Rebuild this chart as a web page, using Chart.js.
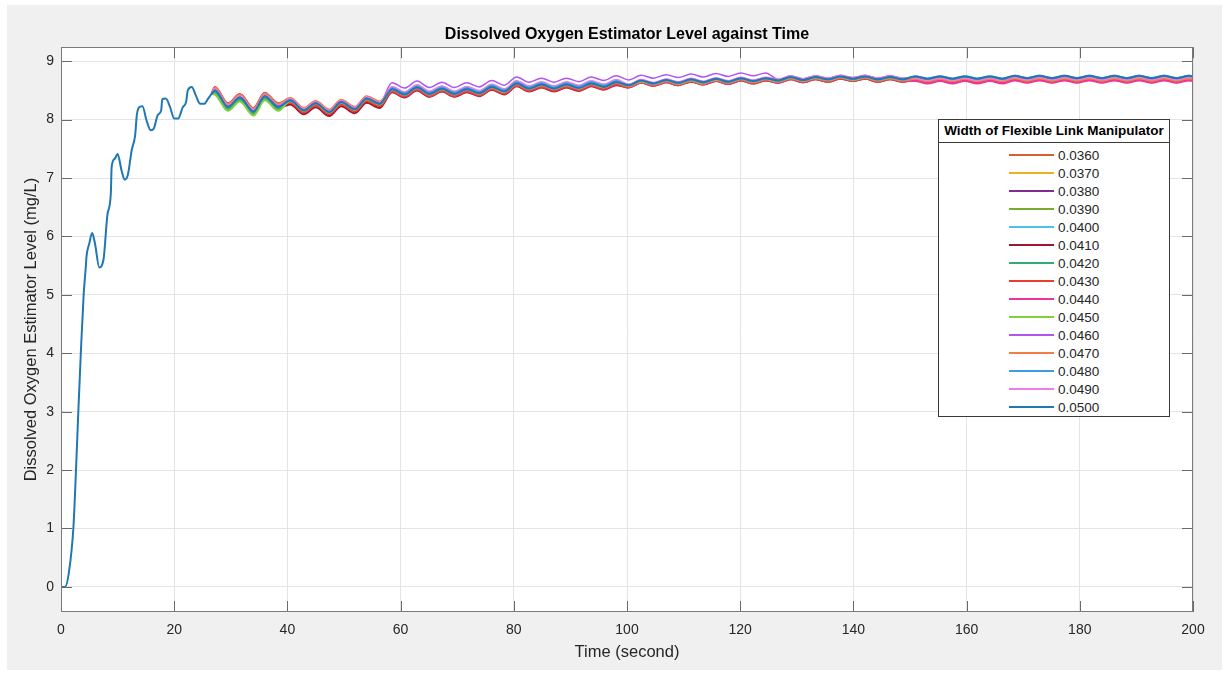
<!DOCTYPE html>
<html>
<head>
<meta charset="utf-8">
<script src="https://cdn.jsdelivr.net/npm/chart.js@4"></script>
<style>
  html, body { margin: 0; padding: 0; background: #fff; }
  #frame { position: absolute; left: 7px; top: 5px; width: 1215px; height: 665px; background: #f0f0f0; }
  #plot { position: absolute; left: 0; top: 0; }
  #legend { position: absolute; left: 938px; top: 119px; width: 230px; height: 296px; border: 1px solid #3a3a3a;
            background: #fff; font-family: "Liberation Sans", Arial, sans-serif; color: #262626; }
  #legend .head { height: 22px; line-height: 22px; border-bottom: 1px solid #3a3a3a; text-align: center;
                  font-weight: bold; font-size: 13.5px; color: #000; }
  #legend .rows { padding-top: 3px; }
  #legend .row { height: 18px; display: flex; align-items: center; }
  #legend .swatch { margin-left: 70px; width: 45px; }
  #legend .lab { margin-left: 4px; font-size: 13.5px; }
</style>
</head>
<body>
<div id="frame"></div>
<canvas id="plot" width="1229" height="673"></canvas>
<div id="legend"><div class="head">Width of Flexible Link Manipulator</div><div class="rows" id="rows"></div></div>
<script>
// tick labels
const xTicks = [0, 20, 40, 60, 80, 100, 120, 140, 160, 180, 200];
const yTicks = [0, 1, 2, 3, 4, 5, 6, 7, 8, 9];

// start-up part (all widths overlap, drawn with the 0.0500 line)
const earlyTime = [0, 0.7, 1.4, 2.2, 2.65, 3.06, 3.5, 4.0, 4.4, 4.5, 5.0, 5.5, 6.0, 6.77, 7.5, 8.2, 8.8, 8.95, 9.5, 10.0,
  10.7, 11.25, 11.8, 12.5, 13.1, 13.4, 13.95, 14.4, 15.1, 15.85, 16.4, 17.1, 17.7, 17.9, 18.5, 19.26, 20.0, 20.7, 21.5, 22.1,
  22.4, 23.1, 23.8, 24.6, 25.3, 26.0];
const earlyLevel = [0, 0, 0.25, 1.03, 2.0, 3.0, 4.0, 5.0, 5.5, 5.65, 5.88, 6.06, 5.88, 5.47, 5.6, 6.37, 6.73, 7.19, 7.33, 7.41,
  7.13, 6.97, 7.05, 7.48, 7.73, 8.08, 8.22, 8.23, 7.99, 7.82, 7.85, 8.08, 8.16, 8.35, 8.36, 8.22, 8.02, 8.02, 8.21, 8.30,
  8.50, 8.56, 8.42, 8.27, 8.27, 8.36];

// time points after the lines split (peaks and troughs)
const lateTime = [26.6, 27.2, 29.5, 31.6, 34.0, 36.0, 38.4, 40.5, 42.9, 45.0, 47.4, 49.5, 51.9, 54.0, 56.3,
  58.5, 60.7, 62.9, 65.1, 67.3, 69.5, 71.7, 73.9, 76.1, 78.3, 80.5, 82.7, 84.9, 87.1, 89.3, 91.5, 93.7, 95.9, 98.1,
  100.3, 102.5, 104.7, 106.9, 109.1, 111.3, 113.5, 115.7, 117.9, 120.1, 122.3, 124.5, 126.7, 128.9, 131.1, 133.3, 135.5, 137.7, 139.9, 142.1, 144.3, 146.5, 148.7,
  150.9, 153.1, 155.3, 157.5, 159.7, 161.9, 164.1, 166.3, 168.5, 170.7, 172.9, 175.1, 177.3, 179.5, 181.7, 183.9, 186.1, 188.3, 190.5, 192.7, 194.9, 197.1, 199.3, 200];

const w0360 = [8.44, 8.56, 8.28, 8.44, 8.20, 8.46, 8.28,
  8.36, 8.19, 8.31, 8.16, 8.33, 8.21, 8.39, 8.30,
  8.52, 8.43, 8.55, 8.44, 8.53, 8.44, 8.52, 8.45, 8.56, 8.48, 8.62, 8.53, 8.60, 8.53, 8.60, 8.54, 8.62, 8.56, 8.64,
  8.58, 8.66, 8.61, 8.67, 8.62, 8.68, 8.63, 8.69, 8.64, 8.70, 8.65, 8.70, 8.66, 8.72, 8.67, 8.72, 8.68, 8.73, 8.69, 8.73, 8.68, 8.72, 8.68,
  8.70, 8.66, 8.70, 8.66, 8.70, 8.66, 8.70, 8.66, 8.71, 8.67, 8.71, 8.67, 8.71, 8.67, 8.71, 8.67, 8.71, 8.67, 8.71, 8.67, 8.71, 8.67, 8.71, 8.70];
const w0370 = [8.44, 8.53, 8.25, 8.41, 8.17, 8.43, 8.25,
  8.35, 8.18, 8.30, 8.15, 8.32, 8.20, 8.38, 8.29,
  8.53, 8.44, 8.56, 8.45, 8.54, 8.45, 8.53, 8.46, 8.57, 8.49, 8.63, 8.54, 8.61, 8.54, 8.61, 8.55, 8.63, 8.57, 8.65,
  8.58, 8.66, 8.61, 8.67, 8.62, 8.68, 8.63, 8.69, 8.64, 8.70, 8.65, 8.70, 8.66, 8.72, 8.67, 8.72, 8.68, 8.73, 8.69, 8.73, 8.68, 8.72, 8.68,
  8.71, 8.67, 8.71, 8.67, 8.71, 8.67, 8.71, 8.67, 8.72, 8.68, 8.72, 8.68, 8.72, 8.68, 8.72, 8.68, 8.72, 8.68, 8.72, 8.68, 8.72, 8.68, 8.72, 8.71];
const w0380 = [8.44, 8.55, 8.27, 8.43, 8.19, 8.45, 8.27,
  8.35, 8.18, 8.30, 8.15, 8.32, 8.20, 8.38, 8.29,
  8.51, 8.42, 8.54, 8.43, 8.52, 8.43, 8.51, 8.44, 8.55, 8.47, 8.61, 8.52, 8.59, 8.52, 8.59, 8.53, 8.61, 8.55, 8.63,
  8.58, 8.66, 8.61, 8.67, 8.62, 8.68, 8.63, 8.69, 8.64, 8.70, 8.65, 8.70, 8.66, 8.72, 8.67, 8.72, 8.68, 8.73, 8.69, 8.73, 8.68, 8.72, 8.68,
  8.71, 8.67, 8.71, 8.67, 8.71, 8.67, 8.71, 8.67, 8.72, 8.68, 8.72, 8.68, 8.72, 8.68, 8.72, 8.68, 8.72, 8.68, 8.72, 8.68, 8.72, 8.68, 8.72, 8.71];
const w0390 = [8.44, 8.45, 8.17, 8.33, 8.09, 8.35, 8.17,
  8.33, 8.16, 8.28, 8.13, 8.30, 8.18, 8.36, 8.27,
  8.50, 8.41, 8.53, 8.42, 8.51, 8.42, 8.50, 8.43, 8.54, 8.46, 8.60, 8.51, 8.58, 8.51, 8.58, 8.52, 8.60, 8.54, 8.62,
  8.57, 8.65, 8.60, 8.66, 8.61, 8.67, 8.62, 8.68, 8.63, 8.69, 8.64, 8.69, 8.65, 8.71, 8.66, 8.71, 8.67, 8.72, 8.68, 8.72, 8.67, 8.71, 8.67,
  8.70, 8.66, 8.70, 8.66, 8.70, 8.66, 8.70, 8.66, 8.71, 8.67, 8.71, 8.67, 8.71, 8.67, 8.71, 8.67, 8.71, 8.67, 8.71, 8.67, 8.71, 8.67, 8.71, 8.70];
const w0400 = [8.44, 8.50, 8.22, 8.38, 8.14, 8.40, 8.22,
  8.34, 8.17, 8.29, 8.14, 8.31, 8.19, 8.37, 8.28,
  8.56, 8.47, 8.59, 8.48, 8.57, 8.48, 8.56, 8.49, 8.60, 8.52, 8.66, 8.57, 8.64, 8.57, 8.64, 8.58, 8.66, 8.60, 8.68,
  8.60, 8.68, 8.63, 8.69, 8.64, 8.70, 8.65, 8.71, 8.66, 8.72, 8.67, 8.72, 8.68, 8.74, 8.69, 8.74, 8.70, 8.75, 8.71, 8.75, 8.70, 8.74, 8.70,
  8.72, 8.68, 8.72, 8.68, 8.72, 8.68, 8.72, 8.68, 8.73, 8.69, 8.73, 8.69, 8.73, 8.69, 8.73, 8.69, 8.73, 8.69, 8.73, 8.69, 8.73, 8.69, 8.73, 8.72];
const w0410 = [8.44, 8.48, 8.20, 8.36, 8.12, 8.38, 8.20,
  8.26, 8.09, 8.21, 8.06, 8.23, 8.11, 8.29, 8.20,
  8.47, 8.38, 8.50, 8.39, 8.48, 8.39, 8.47, 8.40, 8.51, 8.43, 8.57, 8.48, 8.55, 8.48, 8.55, 8.49, 8.57, 8.51, 8.59,
  8.55, 8.63, 8.58, 8.64, 8.59, 8.65, 8.60, 8.66, 8.61, 8.67, 8.62, 8.67, 8.63, 8.69, 8.64, 8.69, 8.65, 8.70, 8.66, 8.70, 8.65, 8.69, 8.65,
  8.69, 8.65, 8.69, 8.65, 8.69, 8.65, 8.69, 8.65, 8.70, 8.66, 8.70, 8.66, 8.70, 8.66, 8.70, 8.66, 8.70, 8.66, 8.70, 8.66, 8.70, 8.66, 8.70, 8.69];
const w0420 = [8.44, 8.47, 8.19, 8.35, 8.11, 8.37, 8.19,
  8.31, 8.14, 8.26, 8.11, 8.28, 8.16, 8.34, 8.25,
  8.52, 8.43, 8.55, 8.44, 8.53, 8.44, 8.52, 8.45, 8.56, 8.48, 8.62, 8.53, 8.60, 8.53, 8.60, 8.54, 8.62, 8.56, 8.64,
  8.58, 8.66, 8.61, 8.67, 8.62, 8.68, 8.63, 8.69, 8.64, 8.70, 8.65, 8.70, 8.66, 8.72, 8.67, 8.72, 8.68, 8.73, 8.69, 8.73, 8.68, 8.72, 8.68,
  8.71, 8.67, 8.71, 8.67, 8.71, 8.67, 8.71, 8.67, 8.72, 8.68, 8.72, 8.68, 8.72, 8.68, 8.72, 8.68, 8.72, 8.68, 8.72, 8.68, 8.72, 8.68, 8.72, 8.71];
const w0430 = [8.44, 8.51, 8.23, 8.39, 8.15, 8.41, 8.23,
  8.29, 8.12, 8.24, 8.09, 8.26, 8.14, 8.32, 8.23,
  8.48, 8.39, 8.51, 8.40, 8.49, 8.40, 8.48, 8.41, 8.52, 8.44, 8.58, 8.49, 8.56, 8.49, 8.56, 8.50, 8.58, 8.52, 8.60,
  8.55, 8.63, 8.58, 8.64, 8.59, 8.65, 8.60, 8.66, 8.61, 8.67, 8.62, 8.67, 8.63, 8.69, 8.64, 8.69, 8.65, 8.70, 8.66, 8.70, 8.65, 8.69, 8.65,
  8.67, 8.63, 8.67, 8.63, 8.67, 8.63, 8.67, 8.63, 8.68, 8.64, 8.68, 8.64, 8.68, 8.64, 8.68, 8.64, 8.68, 8.64, 8.68, 8.64, 8.68, 8.64, 8.68, 8.67];
const w0440 = [8.44, 8.52, 8.24, 8.40, 8.16, 8.42, 8.24,
  8.33, 8.16, 8.28, 8.13, 8.30, 8.18, 8.36, 8.27,
  8.50, 8.41, 8.53, 8.42, 8.51, 8.42, 8.50, 8.43, 8.54, 8.46, 8.60, 8.51, 8.58, 8.51, 8.58, 8.52, 8.60, 8.54, 8.62,
  8.56, 8.64, 8.59, 8.65, 8.60, 8.66, 8.61, 8.67, 8.62, 8.68, 8.63, 8.68, 8.64, 8.70, 8.65, 8.70, 8.66, 8.71, 8.67, 8.71, 8.66, 8.70, 8.66,
  8.66, 8.62, 8.66, 8.62, 8.66, 8.62, 8.66, 8.62, 8.67, 8.63, 8.67, 8.63, 8.67, 8.63, 8.67, 8.63, 8.67, 8.63, 8.67, 8.63, 8.67, 8.63, 8.67, 8.66];
const w0450 = [8.44, 8.43, 8.15, 8.31, 8.07, 8.33, 8.15,
  8.32, 8.15, 8.27, 8.12, 8.29, 8.17, 8.35, 8.26,
  8.51, 8.42, 8.54, 8.43, 8.52, 8.43, 8.51, 8.44, 8.55, 8.47, 8.61, 8.52, 8.59, 8.52, 8.59, 8.53, 8.61, 8.55, 8.63,
  8.57, 8.65, 8.60, 8.66, 8.61, 8.67, 8.62, 8.68, 8.63, 8.69, 8.64, 8.69, 8.65, 8.71, 8.66, 8.71, 8.67, 8.72, 8.68, 8.72, 8.67, 8.71, 8.67,
  8.70, 8.66, 8.70, 8.66, 8.70, 8.66, 8.70, 8.66, 8.71, 8.67, 8.71, 8.67, 8.71, 8.67, 8.71, 8.67, 8.71, 8.67, 8.71, 8.67, 8.71, 8.67, 8.71, 8.70];
const w0460 = [8.44, 8.54, 8.26, 8.42, 8.18, 8.44, 8.26,
  8.35, 8.18, 8.30, 8.15, 8.32, 8.20, 8.38, 8.29,
  8.63, 8.54, 8.66, 8.55, 8.64, 8.55, 8.63, 8.56, 8.67, 8.59, 8.73, 8.64, 8.71, 8.64, 8.71, 8.65, 8.73, 8.67, 8.75,
  8.68, 8.76, 8.71, 8.77, 8.72, 8.78, 8.73, 8.79, 8.74, 8.80, 8.75, 8.80, 8.69, 8.75, 8.70, 8.75, 8.71, 8.76, 8.72, 8.76, 8.71, 8.75, 8.71,
  8.72, 8.68, 8.72, 8.68, 8.72, 8.68, 8.72, 8.68, 8.73, 8.69, 8.73, 8.69, 8.73, 8.69, 8.73, 8.69, 8.73, 8.69, 8.73, 8.69, 8.73, 8.69, 8.73, 8.72];
const w0470 = [8.44, 8.55, 8.27, 8.43, 8.19, 8.45, 8.27,
  8.37, 8.20, 8.32, 8.17, 8.34, 8.22, 8.40, 8.31,
  8.52, 8.43, 8.55, 8.44, 8.53, 8.44, 8.52, 8.45, 8.56, 8.48, 8.62, 8.53, 8.60, 8.53, 8.60, 8.54, 8.62, 8.56, 8.64,
  8.58, 8.66, 8.61, 8.67, 8.62, 8.68, 8.63, 8.69, 8.64, 8.70, 8.65, 8.70, 8.66, 8.72, 8.67, 8.72, 8.68, 8.73, 8.69, 8.73, 8.68, 8.72, 8.68,
  8.70, 8.66, 8.70, 8.66, 8.70, 8.66, 8.70, 8.66, 8.71, 8.67, 8.71, 8.67, 8.71, 8.67, 8.71, 8.67, 8.71, 8.67, 8.71, 8.67, 8.71, 8.67, 8.71, 8.70];
const w0480 = [8.44, 8.50, 8.22, 8.38, 8.14, 8.40, 8.22,
  8.33, 8.16, 8.28, 8.13, 8.30, 8.18, 8.36, 8.27,
  8.54, 8.45, 8.57, 8.46, 8.55, 8.46, 8.54, 8.47, 8.58, 8.50, 8.64, 8.55, 8.62, 8.55, 8.62, 8.56, 8.64, 8.58, 8.66,
  8.59, 8.67, 8.62, 8.68, 8.63, 8.69, 8.64, 8.70, 8.65, 8.71, 8.66, 8.71, 8.67, 8.73, 8.68, 8.73, 8.69, 8.74, 8.70, 8.74, 8.69, 8.73, 8.69,
  8.74, 8.70, 8.74, 8.70, 8.74, 8.70, 8.74, 8.70, 8.75, 8.71, 8.75, 8.71, 8.75, 8.71, 8.75, 8.71, 8.75, 8.71, 8.75, 8.71, 8.75, 8.71, 8.75, 8.74];
const w0490 = [8.44, 8.53, 8.25, 8.41, 8.17, 8.43, 8.25,
  8.36, 8.19, 8.31, 8.16, 8.33, 8.21, 8.39, 8.30,
  8.57, 8.48, 8.60, 8.49, 8.58, 8.49, 8.57, 8.50, 8.61, 8.53, 8.67, 8.58, 8.65, 8.58, 8.65, 8.59, 8.67, 8.61, 8.69,
  8.61, 8.69, 8.64, 8.70, 8.65, 8.71, 8.66, 8.72, 8.67, 8.73, 8.68, 8.73, 8.69, 8.75, 8.70, 8.75, 8.71, 8.76, 8.72, 8.76, 8.71, 8.75, 8.71,
  8.71, 8.67, 8.71, 8.67, 8.71, 8.67, 8.71, 8.67, 8.72, 8.68, 8.72, 8.68, 8.72, 8.68, 8.72, 8.68, 8.72, 8.68, 8.72, 8.68, 8.72, 8.68, 8.72, 8.71];
const w0500 = [8.44, 8.50, 8.22, 8.38, 8.14, 8.40, 8.22,
  8.33, 8.16, 8.28, 8.13, 8.30, 8.18, 8.36, 8.27,
  8.52, 8.43, 8.55, 8.44, 8.53, 8.44, 8.52, 8.45, 8.56, 8.48, 8.62, 8.53, 8.60, 8.53, 8.60, 8.54, 8.62, 8.56, 8.64,
  8.59, 8.67, 8.62, 8.68, 8.63, 8.69, 8.64, 8.70, 8.65, 8.71, 8.66, 8.71, 8.67, 8.73, 8.68, 8.73, 8.69, 8.74, 8.70, 8.74, 8.69, 8.73, 8.69,
  8.74, 8.70, 8.74, 8.70, 8.74, 8.70, 8.74, 8.70, 8.75, 8.71, 8.75, 8.71, 8.75, 8.71, 8.75, 8.71, 8.75, 8.71, 8.75, 8.71, 8.75, 8.71, 8.75, 8.74];

const widthLabels = ['0.0360', '0.0370', '0.0380', '0.0390', '0.0400', '0.0410', '0.0420', '0.0430',
  '0.0440', '0.0450', '0.0460', '0.0470', '0.0480', '0.0490', '0.0500'];
const widthLevels = [w0360, w0370, w0380, w0390, w0400, w0410, w0420, w0430, w0440, w0450, w0460, w0470, w0480, w0490, w0500];

// styles
const seriesColors = ['#D95F2E', '#EDB120', '#7E2F8E', '#77AC30', '#4DBEEE', '#A2142F', '#35AC78', '#EE3B2B',
  '#F0359A', '#82D03C', '#B054F2', '#F47C45', '#3D9CE6', '#F47BE3', '#1F77B4'];
const seriesWidths = [2, 1.5, 2, 2, 1.5, 2, 2, 2, 2, 2, 1.5, 2, 2.2, 1.2, 2];

const FONT = '"Liberation Sans", Arial, Helvetica, sans-serif';

const datasets = widthLabels.map((lab, i) => {
  const last = i === widthLabels.length - 1;
  const pts = lateTime.map((t, k) => ({x: t, y: widthLevels[i][k]}));
  const data = last ? earlyTime.map((t, k) => ({x: t, y: earlyLevel[k]})).concat(pts) : pts;
  return {
    label: lab,
    data: data,
    borderColor: seriesColors[i],
    borderWidth: seriesWidths[i],
    pointRadius: 0,
    fill: false,
    cubicInterpolationMode: 'monotone',
    order: widthLabels.length - 1 - i
  };
});

const axesBox = {
  id: 'axesBox',
  beforeDraw(chart) {
    const {ctx, chartArea: a} = chart;
    ctx.save();
    ctx.fillStyle = '#fff';
    ctx.fillRect(a.left, a.top, a.width, a.height);
    ctx.restore();
  },
  afterDatasetsDraw(chart) {
    const {ctx, chartArea: a, scales: {x, y}} = chart;
    ctx.save();
    ctx.strokeStyle = '#6a6a6a';
    ctx.lineWidth = 1;
    ctx.beginPath();
    xTicks.forEach(v => {
      const px = Math.round(x.getPixelForValue(v)) + 0.5;
      ctx.moveTo(px, a.bottom); ctx.lineTo(px, a.bottom - 11);
      ctx.moveTo(px, a.top); ctx.lineTo(px, a.top + 11);
    });
    yTicks.forEach(v => {
      const py = Math.round(y.getPixelForValue(v)) + 0.5;
      ctx.moveTo(a.left, py); ctx.lineTo(a.left + 11, py);
      ctx.moveTo(a.right, py); ctx.lineTo(a.right - 11, py);
    });
    ctx.stroke();
    ctx.strokeStyle = '#7a7a7a';
    ctx.strokeRect(Math.round(a.left) + 0.5, Math.round(a.top) + 0.5, Math.round(a.width) - 1, Math.round(a.height) - 1);
    ctx.restore();
  }
};

new Chart(document.getElementById('plot'), {
  type: 'line',
  data: {datasets: datasets},
  options: {
    responsive: false,
    animation: false,
    devicePixelRatio: 1,
    layout: {padding: {left: 0, right: 36, top: 0, bottom: 0}},
    plugins: {
      legend: {display: false},
      tooltip: {enabled: false},
      title: {
        display: true,
        fullSize: false,
        text: 'Dissolved Oxygen Estimator Level against Time',
        color: '#000',
        font: {family: FONT, size: 16, weight: 'bold'},
        padding: {top: 25, bottom: 3}
      }
    },
    scales: {
      x: {
        type: 'linear', min: 0, max: 200,
        afterBuildTicks: s => { s.ticks = xTicks.map(v => ({value: v})); },
        afterFit: s => { s.height = 61; },
        grid: {color: '#e4e4e4', drawTicks: false},
        border: {display: false},
        ticks: {padding: 10, color: '#262626', maxRotation: 0, font: {family: FONT, size: 14}},
        title: {display: true, text: 'Time (second)', color: '#262626',
                font: {family: FONT, size: 16.5}, padding: {top: 0, bottom: 11}}
      },
      y: {
        type: 'linear', min: -0.43, max: 9.24,
        afterBuildTicks: s => { s.ticks = yTicks.map(v => ({value: v})); },
        afterFit: s => { s.width = 61; },
        grid: {color: '#e4e4e4', drawTicks: false},
        border: {display: false},
        ticks: {padding: 7, color: '#262626', font: {family: FONT, size: 14}},
        title: {display: true, text: 'Dissolved Oxygen Estimator Level (mg/L)', color: '#262626',
                font: {family: FONT, size: 16.5}, padding: {top: 22, bottom: 0}}
      }
    }
  },
  plugins: [axesBox]
});

// legend box built from the same labels and colours
const rows = document.getElementById('rows');
widthLabels.forEach((lab, i) => {
  const row = document.createElement('div');
  row.className = 'row';
  const sw = document.createElement('div');
  sw.className = 'swatch';
  sw.style.height = '2px';
  sw.style.background = seriesColors[i];
  const tx = document.createElement('span');
  tx.className = 'lab';
  tx.textContent = lab;
  row.appendChild(sw);
  row.appendChild(tx);
  rows.appendChild(row);
});
</script>
</body>
</html>
